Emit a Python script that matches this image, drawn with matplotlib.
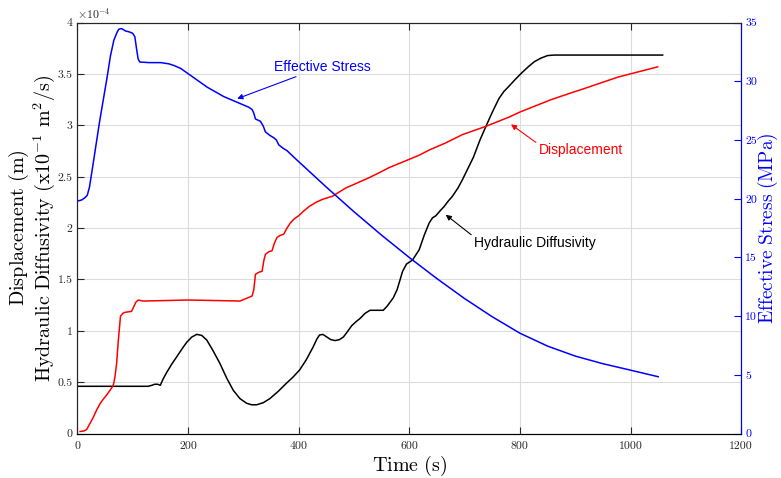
import numpy as np
import matplotlib
matplotlib.use("Agg")
import matplotlib.pyplot as plt
from matplotlib.ticker import FuncFormatter

plt.rcParams['mathtext.fontset'] = 'cm'
plt.rcParams['font.family'] = ['cmr10', 'DejaVu Serif']
plt.rcParams['axes.unicode_minus'] = False

# effective stress (MPa), right axis
t_stress = [0, 8, 14, 18, 22, 27, 40, 54, 60, 66, 72, 75, 80, 87, 95, 100, 104, 107, 110,
            113, 130, 151, 165, 175, 187, 199, 220, 235, 250, 265, 280, 295, 310, 316,
            319, 322, 331, 336, 340, 348, 355, 360, 364, 372, 379, 388, 397, 450, 500,
            550, 600, 650, 700, 750, 800, 850, 900, 950, 1000, 1050]
stress = [19.8, 19.9, 20.1, 20.3, 21.0, 22.5, 26.5, 30.4, 32.2, 33.5, 34.2, 34.45, 34.5,
          34.3, 34.2, 34.1, 33.8, 32.8, 31.9, 31.65, 31.6, 31.6, 31.5, 31.35, 31.1, 30.7,
          30.0, 29.5, 29.1, 28.7, 28.4, 28.1, 27.8, 27.6, 27.3, 26.8, 26.6, 26.2, 25.7,
          25.4, 25.2, 25.0, 24.6, 24.3, 24.1, 23.7, 23.3, 21.0, 18.9, 16.9, 15.0, 13.2,
          11.5, 9.95, 8.55, 7.45, 6.6, 5.95, 5.4, 4.84]

# hydraulic diffusivity (x1e-4), left axis
t_hd = [0, 128, 135, 140, 145, 150, 155, 161, 170, 180, 190, 198, 207, 216, 225, 234,
        245, 258, 270, 282, 294, 306, 315, 324, 336, 348, 363, 378, 390, 402, 414, 426,
        433, 438, 444, 451, 458, 466, 474, 481, 488, 496, 504, 511, 520, 529, 553, 560,
        571, 578, 583, 588, 595, 606, 612, 618, 627, 636, 642, 648, 656, 663, 670, 678,
        688, 696, 706, 716, 728, 741, 752, 762, 771, 780, 792, 803, 815, 826, 838, 850,
        862, 1058]
hd = [0.46, 0.46, 0.47, 0.48, 0.48, 0.47, 0.53, 0.59, 0.67, 0.75, 0.83, 0.89, 0.94,
      0.966, 0.955, 0.91, 0.81, 0.68, 0.54, 0.42, 0.34, 0.295, 0.28, 0.28, 0.30, 0.34,
      0.41, 0.49, 0.55, 0.62, 0.72, 0.84, 0.92, 0.96, 0.965, 0.94, 0.915, 0.905, 0.915,
      0.94, 0.99, 1.05, 1.09, 1.12, 1.17, 1.20, 1.20, 1.24, 1.32, 1.40, 1.49, 1.58,
      1.65, 1.69, 1.74, 1.79, 1.93, 2.05, 2.10, 2.12, 2.17, 2.21, 2.26, 2.31, 2.39,
      2.47, 2.58, 2.69, 2.86, 3.02, 3.15, 3.26, 3.33, 3.38, 3.45, 3.51, 3.57, 3.62,
      3.655, 3.68, 3.685, 3.685]

# displacement (x1e-4 m), left axis
t_disp = [5, 12, 17, 22, 29, 35, 41, 47, 53, 59, 65, 68, 71, 74, 78, 82, 86, 92, 98, 102,
          106, 110, 119, 160, 200, 250, 294, 312, 316, 319, 322, 328, 334, 337, 340, 346,
          352, 356, 361, 367, 373, 379, 385, 392, 400, 410, 419, 431, 443, 461, 473, 485,
          506, 527, 546, 564, 582, 600, 618, 636, 651, 666, 681, 696, 717, 738, 759, 780,
          800, 828, 856, 886, 917, 947, 977, 1013, 1049]
disp = [0.02, 0.025, 0.04, 0.09, 0.16, 0.23, 0.29, 0.335, 0.375, 0.42, 0.47, 0.55, 0.68,
        0.9, 1.14, 1.17, 1.18, 1.185, 1.19, 1.235, 1.28, 1.30, 1.29, 1.295, 1.30, 1.295,
        1.29, 1.33, 1.34, 1.40, 1.55, 1.57, 1.58, 1.68, 1.745, 1.77, 1.78, 1.85, 1.91,
        1.93, 1.94, 2.00, 2.05, 2.09, 2.12, 2.17, 2.21, 2.25, 2.28, 2.31, 2.35, 2.39,
        2.44, 2.49, 2.54, 2.59, 2.63, 2.67, 2.71, 2.76, 2.795, 2.83, 2.87, 2.91, 2.95,
        2.99, 3.035, 3.08, 3.13, 3.19, 3.25, 3.305, 3.36, 3.415, 3.47, 3.52, 3.57]

fig = plt.figure(figsize=(7.81, 4.78), dpi=100)
ax = fig.add_axes([0.099, 0.093, 0.85, 0.8595])
ax2 = ax.twinx()

ax.plot(t_hd, hd, color='black', lw=1.1)
ax.plot(t_disp, disp, color='red', lw=1.1)
ax2.plot(t_stress, stress, color='blue', lw=1.1)

ax.set_xlim(0, 1200)
ax.set_ylim(0, 4)
ax2.set_ylim(0, 35)
ax.set_xticks(np.arange(0, 1201, 200))
ax.set_yticks(np.arange(0, 4.01, 0.5))
ax2.set_yticks(np.arange(0, 36, 5))
ax.yaxis.set_major_formatter(FuncFormatter(lambda v, p: '%g' % v))

ax.grid(True, color='#dcdcdc', lw=0.8)
ax.set_axisbelow(True)
ax.tick_params(direction='in', labelsize=8.5, colors='#262626', length=5,
               top=True, right=False)
ax.tick_params(axis='x', pad=6)
ax2.tick_params(direction='in', labelsize=8.5, colors='blue', length=5, pad=3)
for s in ['left', 'bottom', 'top']:
    ax.spines[s].set_color('#262626')
ax2.spines['right'].set_color('blue')
ax2.spines['left'].set_color('#262626')
ax2.spines['top'].set_color('#262626')

ax.set_xlabel(r'$\mathrm{Time\ (s)}$', fontsize=14.5, labelpad=2)
ax.set_ylabel(r'$\mathrm{Displacement\ (m)}$' + '\n' +
              r'$\mathrm{Hydraulic\ Diffusivity\ (x10^{-1}\ m^2/s)}$',
              fontsize=14.5, labelpad=0, linespacing=1.05)
ax2.set_ylabel(r'$\mathrm{Effective\ Stress\ (MPa)}$', fontsize=14, color='blue',
               labelpad=-1)
ax.text(0.0, 1.005, r'$\times10^{-4}$', transform=ax.transAxes, fontsize=8.5,
        color='#262626', va='bottom', ha='left')

ann = dict(fontsize=10, family=['Liberation Sans', 'DejaVu Sans'])
ax.annotate('Effective Stress', xy=(289, 3.26), xytext=(355, 3.57), color='blue',
            va='center', ha='left',
            arrowprops=dict(arrowstyle='-|>', color='blue', lw=0.8, shrinkA=0,
                            shrinkB=0, mutation_scale=8), **ann)
ax.annotate('Displacement', xy=(784, 3.01), xytext=(834, 2.76), color='red',
            va='center', ha='left',
            arrowprops=dict(arrowstyle='-|>', color='red', lw=0.8, shrinkA=0,
                            shrinkB=0, mutation_scale=8,
                            relpos=(0, 0.9)), **ann)
ax.annotate('Hydraulic Diffusivity', xy=(666, 2.13), xytext=(717, 1.86), color='black',
            va='center', ha='left',
            arrowprops=dict(arrowstyle='-|>', color='black', lw=0.8, shrinkA=0,
                            shrinkB=0, mutation_scale=8,
                            relpos=(0, 0.9)), **ann)

fig.savefig('out.png', dpi=100)
